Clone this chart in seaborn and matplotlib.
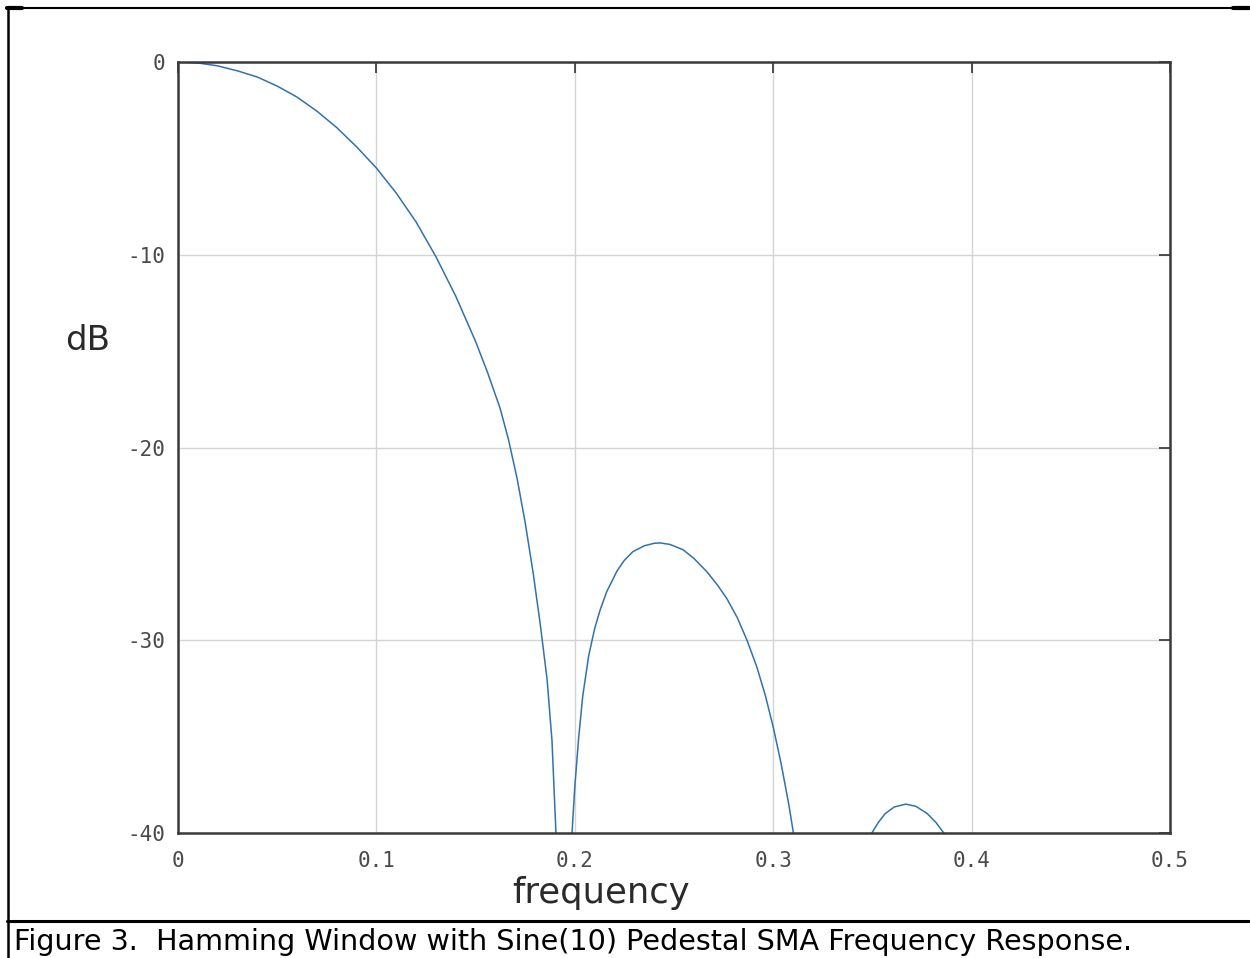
import numpy as np
import pandas as pd
import matplotlib
matplotlib.use("Agg")
import matplotlib.pyplot as plt
from matplotlib.lines import Line2D
import seaborn as sns

# ---- data ----
# main lobe
freq_main = [0.000, 0.010, 0.020, 0.030, 0.040, 0.050, 0.060, 0.070, 0.080, 0.090,
             0.100, 0.110, 0.120, 0.130, 0.140, 0.150, 0.156, 0.1623, 0.1665, 0.1709,
             0.175, 0.179, 0.1825, 0.186, 0.1885, 0.1905, 0.1925, 0.1945]
db_main = [0.0, -0.05, -0.2, -0.46, -0.78, -1.25, -1.82, -2.55, -3.4, -4.4,
           -5.5, -6.8, -8.3, -10.1, -12.15, -14.5, -16.1, -17.95, -19.55, -21.6,
           -23.9, -26.5, -29.1, -32.0, -35.2, -40.0, -47.0, -65.0]
# first side lobe
freq_side1 = [0.1965, 0.1986, 0.200, 0.202, 0.204, 0.207, 0.210, 0.2127, 0.216, 0.2213,
              0.225, 0.2293, 0.235, 0.240, 0.243, 0.248, 0.2545, 0.260, 0.2666, 0.272,
              0.2767, 0.282, 0.2868, 0.2918, 0.296, 0.300, 0.304, 0.308, 0.3105, 0.315,
              0.322, 0.330]
db_side1 = [-47.0, -40.0, -37.6, -35.0, -32.9, -30.8, -29.4, -28.45, -27.5, -26.4,
            -25.85, -25.4, -25.1, -24.97, -24.95, -25.03, -25.3, -25.75, -26.45, -27.15,
            -27.85, -28.85, -30.0, -31.4, -32.85, -34.5, -36.4, -38.6, -40.2, -43.5,
            -50.0, -65.0]
# second side lobe and tail (below the axis floor)
freq_side2 = [0.337, 0.343, 0.3497, 0.353, 0.3564, 0.361, 0.3669, 0.372, 0.3775, 0.382,
              0.386, 0.390, 0.395, 0.400, 0.410, 0.420, 0.440, 0.460, 0.480, 0.500]
db_side2 = [-55.0, -45.0, -40.0, -39.45, -39.0, -38.65, -38.5, -38.62, -38.98, -39.45,
            -40.0, -41.0, -43.0, -46.0, -60.0, -55.0, -48.0, -49.0, -55.0, -60.0]

x_ticks = [0, 0.1, 0.2, 0.3, 0.4, 0.5]
x_tick_labels = ["0", "0.1", "0.2", "0.3", "0.4", "0.5"]
y_ticks = [0, -10, -20, -30, -40]
y_tick_labels = ["0", "-10", "-20", "-30", "-40"]

x_label = "frequency"
y_label = "dB"
caption = "Figure 3.  Hamming Window with Sine(10) Pedestal SMA Frequency Response."

# ---- figure ----
sns.set_theme(style="white")
plt.rcParams["font.family"] = ["DejaVu Sans"]

W, H = 1250, 958
fig = plt.figure(figsize=(W / 100, H / 100), dpi=100)
fig.patch.set_facecolor("white")

ax = fig.add_axes([178 / W, 1 - 833 / H, (1170 - 178) / W, (833 - 62) / H])
df = pd.DataFrame({"frequency": freq_main + freq_side1 + freq_side2,
                   "dB": db_main + db_side1 + db_side2})
sns.lineplot(data=df, x="frequency", y="dB", ax=ax, color="#2f72ad",
             linewidth=1.1, sort=False, estimator=None)

ax.set_xlim(0, 0.5)
ax.set_ylim(-40, 0)
ax.set_xticks(x_ticks)
ax.set_xticklabels(x_tick_labels)
ax.set_yticks(y_ticks)
ax.set_yticklabels(y_tick_labels)
ax.set_xlabel("")
ax.set_ylabel("")

ax.grid(True, color="#d4d4d4", linewidth=1.0)
ax.set_axisbelow(True)
for s in ax.spines.values():
    s.set_visible(True)
    s.set_color("#3a3a3a")
    s.set_linewidth(1.8)

ax.tick_params(axis="both", which="major", direction="in", length=8,
               width=1.2, color="#333333", labelcolor="#4a4a4a",
               labelsize=15, top=True, right=True)
ax.tick_params(axis="x", pad=13)
ax.tick_params(axis="y", pad=9)
for lab in ax.get_xticklabels() + ax.get_yticklabels():
    lab.set_family("DejaVu Sans Mono")

fig.text(88 / W, 1 - 340 / H, y_label, ha="center", va="center",
         fontsize=24.5, color="#2a2a2a", family="DejaVu Sans")
fig.text(601 / W, 1 - 893 / H, x_label, ha="center", va="center",
         fontsize=25.5, color="#2a2a2a", family="DejaVu Sans")

cap = fig.text(14 / W, 1 - 950 / H, caption, ha="left", va="baseline",
               fontsize=20, color="black", family="DejaVu Sans")
# fit caption width to reference (~1118 px)
r = fig.canvas.get_renderer()
w = cap.get_window_extent(renderer=r).width
cap.set_fontsize(20 * 1118 / w)

# ---- page border lines ----
def hline(y, x0, x1, lw):
    fig.add_artist(Line2D([x0 / W, x1 / W], [1 - y / H, 1 - y / H],
                          transform=fig.transFigure, color="black", linewidth=lw))

def vline(x, y0, y1, lw):
    fig.add_artist(Line2D([x / W, x / W], [1 - y0 / H, 1 - y1 / H],
                          transform=fig.transFigure, color="black", linewidth=lw))

hline(7.5, 7, 1250, 1.5)
hline(8, 7, 22, 3)
hline(8, 1233, 1250, 3)
vline(7.5, 7, 958, 1.8)
hline(920.5, 7, 1250, 2.2)

fig.savefig("out.png", dpi=100, facecolor="white")
